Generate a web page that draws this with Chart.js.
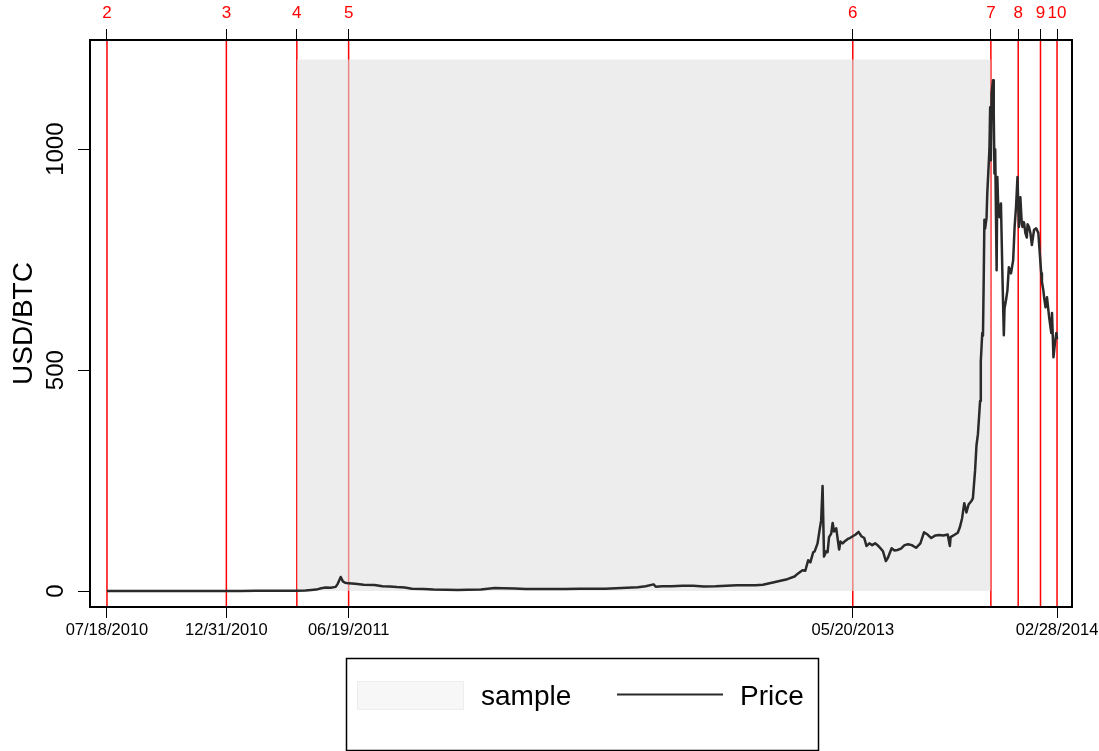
<!DOCTYPE html>
<html>
<head>
<meta charset="utf-8">
<title>USD/BTC price with structural breaks</title>
<script src="https://cdn.jsdelivr.net/npm/chart.js@4.4.1/dist/chart.umd.min.js"></script>
<style>
  html, body { margin: 0; padding: 0; background: #ffffff; }
  #wrap { width: 1099px; height: 751px; }
</style>
</head>
<body>
<div id="wrap"><canvas id="chart" width="1099" height="751"></canvas></div>
<script>
// ---- data ----------------------------------------------------------------
const priceDates = [
  '2010-07-18','2010-08-15','2010-09-15','2010-10-10','2010-11-06','2010-11-20','2010-12-15','2010-12-31',
  '2011-01-20','2011-02-10','2011-03-01','2011-03-20','2011-04-08','2011-04-20','2011-04-28','2011-05-05',
  '2011-05-12','2011-05-18','2011-05-25','2011-06-01','2011-06-04','2011-06-08','2011-06-11','2011-06-14',
  '2011-06-19','2011-06-28','2011-07-10','2011-07-25','2011-08-05','2011-08-15','2011-08-25','2011-09-05',
  '2011-09-15','2011-10-01','2011-10-15','2011-11-01','2011-11-18','2011-12-01','2011-12-20','2012-01-08',
  '2012-01-20','2012-02-05','2012-02-20','2012-03-05','2012-03-25','2012-04-15','2012-05-05','2012-05-25',
  '2012-06-10','2012-06-25','2012-07-10','2012-07-25','2012-08-05','2012-08-16','2012-08-19','2012-08-28',
  '2012-09-10','2012-09-25','2012-10-10','2012-10-25','2012-11-10','2012-11-25','2012-12-10','2012-12-25',
  '2013-01-05','2013-01-15','2013-01-29','2013-02-10','2013-02-18','2013-02-28','2013-03-05','2013-03-11',
  '2013-03-15','2013-03-19','2013-03-22','2013-03-26','2013-03-28','2013-04-01','2013-04-04','2013-04-06',
  '2013-04-08','2013-04-10','2013-04-13','2013-04-15','2013-04-17','2013-04-20','2013-04-22','2013-04-24',
  '2013-04-27','2013-05-01','2013-05-03','2013-05-06','2013-05-09','2013-05-13','2013-05-16','2013-05-20',
  '2013-05-24','2013-05-28','2013-06-01','2013-06-05','2013-06-08','2013-06-12','2013-06-16','2013-06-20',
  '2013-06-24','2013-06-28','2013-07-01','2013-07-05','2013-07-08','2013-07-13','2013-07-17','2013-07-21',
  '2013-07-26','2013-07-31','2013-08-05','2013-08-10','2013-08-16','2013-08-22','2013-08-27','2013-09-01',
  '2013-09-06','2013-09-12','2013-09-17','2013-09-23','2013-09-29','2013-10-02','2013-10-03','2013-10-08',
  '2013-10-13','2013-10-16','2013-10-19','2013-10-22','2013-10-25','2013-10-28','2013-11-01','2013-11-03',
  '2013-11-06','2013-11-08','2013-11-10','2013-11-13','2013-11-14','2013-11-16','2013-11-17','2013-11-18',
  '2013-11-19','2013-11-20','2013-11-22','2013-11-23','2013-11-26','2013-11-27','2013-11-28','2013-11-29',
  '2013-12-01','2013-12-02','2013-12-03','2013-12-04','2013-12-06','2013-12-07','2013-12-08','2013-12-10',
  '2013-12-12','2013-12-14','2013-12-16','2013-12-17','2013-12-19','2013-12-21','2013-12-23','2013-12-26',
  '2013-12-29','2013-12-31','2014-01-02','2014-01-04','2014-01-06','2014-01-07','2014-01-08','2014-01-10',
  '2014-01-11','2014-01-13','2014-01-15','2014-01-17','2014-01-18','2014-01-20','2014-01-22','2014-01-24',
  '2014-01-27','2014-01-30','2014-02-02','2014-02-03','2014-02-06','2014-02-07','2014-02-09','2014-02-10',
  '2014-02-12','2014-02-14','2014-02-17','2014-02-20','2014-02-21','2014-02-23','2014-02-25','2014-02-27',
  '2014-02-28'
];
const priceValues = [
  0.05, 0.07, 0.06, 0.10, 0.35, 0.28, 0.24, 0.30,
  0.40, 1.05, 0.90, 0.80, 0.75, 1.3, 2.5, 3.4,
  6.5, 8.0, 7.5, 9.5, 17, 32, 22, 19,
  17.5, 16.5, 14.5, 14, 11, 10.5, 9, 8,
  5.5, 5, 3.5, 3.2, 2.3, 2.9, 3.8, 6.8,
  6.3, 5.8, 4.5, 4.8, 4.8, 4.9, 5.1, 5.1,
  5.5, 6.6, 7.7, 8.8, 10.9, 15.2, 10.1, 10.8,
  11, 12.2, 11.9, 10.6, 10.9, 12.3, 13.3, 13.4,
  13.4, 14.3, 19.5, 24, 27, 33, 40, 47,
  46, 70, 65, 88, 90, 108, 140, 160,
  238, 78, 90, 88, 122, 130, 154, 135,
  142, 94, 112, 108, 113, 118, 120, 124,
  128, 134, 124, 120, 102, 108, 104, 108,
  103, 96, 90, 68, 76, 97, 92, 93,
  96, 104, 106, 104, 98, 108, 133, 128,
  120, 126, 127, 126, 128, 102, 122, 127,
  132, 145, 165, 199, 178, 196, 204, 210,
  272, 330, 355, 430, 520, 584, 578, 700,
  840, 820, 845, 900, 1000, 1095, 975, 1127,
  1156, 1080, 945, 1000, 726, 937, 880, 846,
  877, 719, 579, 640, 658, 680, 733, 719,
  749, 824, 870, 937, 824, 880, 891, 830,
  824, 835, 810, 800, 830, 824, 810, 783,
  817, 821, 810, 787, 719, 700, 680, 665,
  642, 665, 620, 584, 629, 529, 560, 584,
  570
];

// estimation window shown as the shaded "sample" band
const sampleStart = '2011-04-08';
const sampleEnd = '2013-11-28';
const sampleTop = 1203;

// break dates and their numbers along the top axis
const breakDates = ['2010-07-18','2010-12-31','2011-04-08','2011-06-19','2013-05-20','2013-11-28','2014-01-05','2014-02-05','2014-02-28'];
const breakLabels = ['2','3','4','5','6','7','8','9','10'];

// dated ticks on the bottom axis
const axisDates = ['2010-07-18','2010-12-31','2011-06-19','2013-05-20','2014-02-28'];
// value ticks on the left axis
const yTicks = [0, 500, 1000];

// ---- helpers ---------------------------------------------------------------
const ORIGIN = Date.UTC(2010, 6, 18);
function toDay(s) {
  const [y, m, d] = s.split('-').map(Number);
  return (Date.UTC(y, m - 1, d) - ORIGIN) / 864e5;
}
function fmtDate(s) {
  const [y, m, d] = s.split('-');
  return m + '/' + d + '/' + y;
}

const FONT = "'Liberation Sans', Arial, Helvetica, sans-serif";
Chart.defaults.font.family = FONT;
Chart.defaults.color = '#000000';

const X_MIN = -23.6, X_MAX = 1341.8;
const Y_MIN = -36, Y_MAX = 1247;

const priceData = priceDates.map((d, i) => ({ x: toDay(d), y: priceValues[i] }));
const sampleData = [{ x: toDay(sampleStart), y: sampleTop }, { x: toDay(sampleEnd), y: sampleTop }];

// keep the horizontal axes from reserving room for overhanging end labels
function fixHorizontal(s) {
  s.height = 40;
  s.paddingLeft = 0;
  s.paddingRight = 0;
}

// red vertical break lines, drawn under the shaded band
const breakLines = {
  id: 'breakLines',
  beforeDatasetsDraw(chart) {
    const { ctx, chartArea } = chart;
    const xs = chart.scales.x;
    ctx.save();
    ctx.strokeStyle = 'rgb(255,0,0)';
    ctx.lineWidth = 1.5;
    breakDates.forEach(d => {
      const px = xs.getPixelForValue(toDay(d));
      ctx.beginPath();
      ctx.moveTo(px, chartArea.top);
      ctx.lineTo(px, chartArea.bottom);
      ctx.stroke();
    });
    ctx.restore();
  }
};

// plot frame, rotated value labels and the boxed legend
const frameAndLegend = {
  id: 'frameAndLegend',
  afterDraw(chart) {
    const { ctx, chartArea } = chart;
    const ys = chart.scales.y;
    ctx.save();
    // frame
    ctx.strokeStyle = '#000000';
    ctx.lineWidth = 2;
    ctx.strokeRect(chartArea.left, chartArea.top, chartArea.right - chartArea.left, chartArea.bottom - chartArea.top);

    // rotated y tick labels
    ctx.fillStyle = '#000000';
    ctx.font = '24px ' + FONT;
    ctx.textAlign = 'center';
    ctx.textBaseline = 'middle';
    ys.ticks.forEach(t => {
      const py = ys.getPixelForValue(t.value);
      ctx.save();
      ctx.translate(56, py);
      ctx.rotate(-Math.PI / 2);
      ctx.fillText(String(t.value), 0, 0);
      ctx.restore();
    });

    // legend
    const price = chart.data.datasets[0];
    const sample = chart.data.datasets[1];
    ctx.lineWidth = 1.5;
    ctx.strokeStyle = '#000000';
    ctx.strokeRect(346.5, 658.5, 472, 92);

    ctx.fillStyle = '#f7f7f7';
    ctx.fillRect(357, 681, 107, 29);
    ctx.strokeStyle = '#ededed';
    ctx.lineWidth = 1;
    ctx.strokeRect(357.5, 681.5, 106, 28);

    ctx.fillStyle = '#000000';
    ctx.font = '28px ' + FONT;
    ctx.textAlign = 'left';
    ctx.textBaseline = 'alphabetic';
    ctx.fillText(sample.label, 481, 705);

    ctx.strokeStyle = price.borderColor;
    ctx.lineWidth = 2;
    ctx.beginPath();
    ctx.moveTo(617, 694.5);
    ctx.lineTo(723, 694.5);
    ctx.stroke();
    ctx.fillText(price.label, 740, 705);
    ctx.restore();
  }
};

new Chart(document.getElementById('chart'), {
  type: 'line',
  data: {
    datasets: [
      {
        label: 'Price',
        data: priceData,
        borderColor: '#2a2a2a',
        borderWidth: 2.5,
        borderJoinStyle: 'round',
        pointRadius: 0,
        fill: false,
        tension: 0,
        order: 0
      },
      {
        label: 'sample',
        data: sampleData,
        borderWidth: 0,
        borderColor: 'rgba(0,0,0,0)',
        backgroundColor: 'rgba(224,224,224,0.58)',
        pointRadius: 0,
        fill: 'origin',
        order: 1
      }
    ]
  },
  options: {
    responsive: false,
    animation: false,
    devicePixelRatio: 1,
    layout: { padding: { left: 0, right: 27, top: 0, bottom: 104 } },
    plugins: {
      legend: { display: false },
      tooltip: { enabled: false }
    },
    scales: {
      x: {
        type: 'linear',
        position: 'bottom',
        min: X_MIN,
        max: X_MAX,
        afterBuildTicks: s => { s.ticks = axisDates.map(d => ({ value: toDay(d) })); },
        afterFit: fixHorizontal,
        ticks: {
          callback: (v, i) => fmtDate(axisDates[i]),
          font: { size: 16.5 },
          color: '#000000',
          maxRotation: 0,
          minRotation: 0,
          autoSkip: false,
          padding: 3
        },
        grid: { drawOnChartArea: false, drawTicks: true, tickLength: 11, color: '#000000', lineWidth: 1 },
        border: { display: false }
      },
      x2: {
        type: 'linear',
        position: 'top',
        min: X_MIN,
        max: X_MAX,
        afterBuildTicks: s => { s.ticks = breakDates.map(d => ({ value: toDay(d) })); },
        afterFit: fixHorizontal,
        ticks: {
          callback: (v, i) => breakLabels[i],
          font: { size: 17 },
          color: '#ff0000',
          maxRotation: 0,
          minRotation: 0,
          autoSkip: false,
          padding: 5
        },
        grid: { drawOnChartArea: false, drawTicks: true, tickLength: 11, color: '#000000', lineWidth: 1 },
        border: { display: false }
      },
      y: {
        type: 'linear',
        position: 'left',
        min: Y_MIN,
        max: Y_MAX,
        afterBuildTicks: s => { s.ticks = yTicks.map(v => ({ value: v })); },
        afterFit: s => { s.width = 90; },
        ticks: { display: false },
        grid: { drawOnChartArea: false, drawTicks: true, tickLength: 12, color: '#000000', lineWidth: 1 },
        border: { display: false },
        title: {
          display: true,
          text: 'USD/BTC',
          font: { size: 28 },
          color: '#000000',
          padding: { top: 7, bottom: 0 }
        }
      }
    }
  },
  plugins: [breakLines, frameAndLegend]
});
</script>
</body>
</html>
